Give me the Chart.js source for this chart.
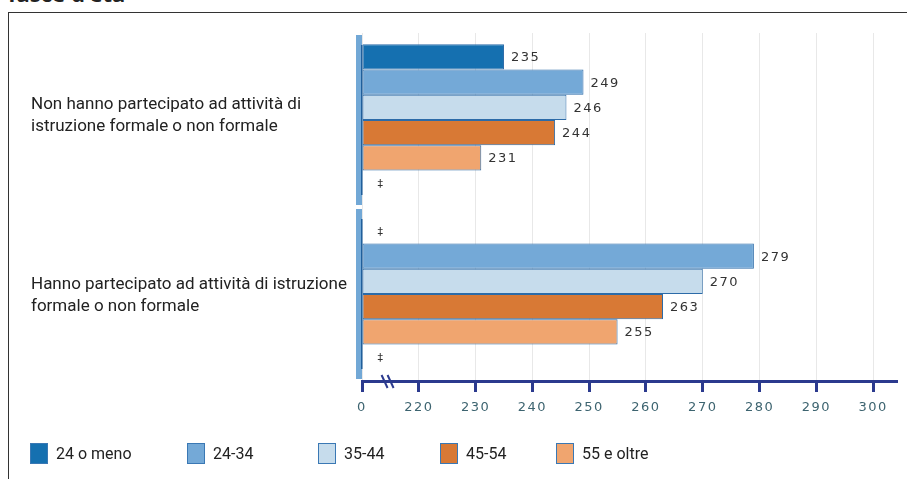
<!DOCTYPE html>
<html>
<head>
<meta charset="utf-8">
<script src="https://cdn.jsdelivr.net/npm/chart.js@4.4.0/dist/chart.umd.min.js"></script>
<style>
  html, body { margin: 0; padding: 0; background: #fff; }
  #wrap { position: relative; width: 907px; height: 479px; overflow: hidden; }
  #title { position: absolute; left: 8px; top: -22px; font: bold 22px "Noto Sans", sans-serif; color: #222; }
  #frame { position: absolute; left: 8px; top: 12px; width: 930px; height: 520px; border: 1.5px solid #333; box-sizing: border-box; }
  canvas { position: absolute; left: 0; top: 0; }
  .item { position: absolute; top: 443px; display: flex; align-items: center; font: 16px Roboto, sans-serif; color: #222; white-space: nowrap; }
  .sw { width: 18px; height: 21px; border: 1px solid #3a78b4; margin-right: 8px; box-sizing: border-box; }
</style>
</head>
<body>
<div id="wrap">
  <div id="title">fasce d'età</div>
  <div id="frame"></div>
  <canvas id="chart" width="907" height="479"></canvas>
  <div id="legend"></div>
</div>
<script>
const categories = [
  ["Non hanno partecipato ad attività di", "istruzione formale o non formale"],
  ["Hanno partecipato ad attività di istruzione", "formale o non formale"],
];
const seriesNames = ["24 o meno", "24-34", "35-44", "45-54", "55 e oltre", ""];
const age24OrLess = [235, null];
const age24to34 = [249, 279];
const age35to44 = [246, 270];
const age45to54 = [244, 263];
const age55Plus = [231, 255];
const extraSlot = [null, null];
// broken axis: 210 is drawn as "0"
const xTickValues = [210, 220, 230, 240, 250, 260, 270, 280, 290, 300];
const xTickLabels = ["0", "220", "230", "240", "250", "260", "270", "280", "290", "300"];
const AXIS_BASE = 210;
const missingMark = "‡";

const COLORS = ["#1570b0", "#74a9d7", "#c6dcec", "#d87935", "#f0a56f", "#ffffff"];
const BORDER = "#2c6ba8";
const NAVY = "#2b3a8e";
const LABEL_FONT = '17px Roboto, sans-serif';

const seriesValues = [age24OrLess, age24to34, age35to44, age45to54, age55Plus, extraSlot];

const legend = document.getElementById("legend");
const legendLeft = [30, 187, 318, 440, 556];
seriesNames.slice(0, 5).forEach((name, i) => {
  legend.insertAdjacentHTML(
    "beforeend",
    `<div class="item" style="left:${legendLeft[i]}px"><span class="sw" style="background:${COLORS[i]}"></span>${name}</div>`
  );
});

const decorations = {
  id: "decorations",
  beforeDraw(chart) {
    chart.ctx.letterSpacing = "1.5px";
  },
  afterDatasetsDraw(chart) {
    const ctx = chart.ctx;
    const x = chart.scales.x;
    ctx.save();
    ctx.fillStyle = "#333";
    ctx.textBaseline = "middle";
    chart.data.datasets.forEach((ds, di) => {
      chart.getDatasetMeta(di).data.forEach((bar, i) => {
        const v = ds.data[i];
        if (v == null) {
          ctx.font = '11px "DejaVu Sans", sans-serif';
          ctx.textAlign = "center";
          ctx.fillText(missingMark, x.getPixelForValue(AXIS_BASE) + 19, bar.y + 1);
        } else {
          ctx.font = '13px "DejaVu Sans", sans-serif';
          ctx.textAlign = "left";
          ctx.fillText(String(v), bar.x + 7, bar.y + 1);
        }
      });
    });
    ctx.restore();
  },
  afterDraw(chart) {
    const ctx = chart.ctx;
    const { x, y } = chart.scales;
    const area = chart.chartArea;
    ctx.save();
    ctx.letterSpacing = "0px";
    // left axis, split per category
    categories.forEach((_, i) => {
      const c = y.getPixelForValue(i);
      const half = (area.bottom - area.top) / categories.length / 2;
      ctx.fillStyle = "#72a8d6";
      ctx.fillRect(area.left - 6, c - half + 2, 6, 2 * half - 4);
      ctx.fillStyle = "#1f5f9c";
      ctx.fillRect(area.left - 1, c - half + 12, 1.5, 2 * half - 24);
    });
    // break mark on x axis
    const bx = x.getPixelForValue(214.5);
    ctx.strokeStyle = NAVY;
    ctx.lineWidth = 2;
    [-3, 3].forEach((dx) => {
      ctx.beginPath();
      ctx.moveTo(bx + dx - 3, area.bottom - 6);
      ctx.lineTo(bx + dx + 3, area.bottom + 7);
      ctx.stroke();
    });
    // category labels
    ctx.font = LABEL_FONT;
    ctx.fillStyle = "#222";
    ctx.textAlign = "left";
    ctx.textBaseline = "middle";
    categories.forEach((lines, i) => {
      const c = y.getPixelForValue(i) + (i === 0 ? -4 : 2);
      lines.forEach((t, li) => ctx.fillText(t, 31, c + (li - (lines.length - 1) / 2) * 22));
    });
    ctx.restore();
  },
};

new Chart(document.getElementById("chart"), {
  type: "bar",
  data: {
    labels: categories,
    datasets: seriesValues.map((vals, i) => ({
      label: seriesNames[i],
      data: vals,
      backgroundColor: COLORS[i],
      borderColor: BORDER,
      borderWidth: 1,
      borderSkipped: false,
      base: AXIS_BASE,
    })),
  },
  options: {
    indexAxis: "y",
    responsive: false,
    devicePixelRatio: 1,
    animation: false,
    categoryPercentage: 0.87,
    barPercentage: 1,
    layout: { padding: { left: 362, top: 33, right: 10, bottom: 64 } },
    plugins: { legend: { display: false }, tooltip: { enabled: false } },
    scales: {
      x: {
        type: "linear",
        min: AXIS_BASE,
        max: 304.2,
        afterBuildTicks: (s) => { s.ticks = xTickValues.map((v) => ({ value: v })); },
        afterFit: (s) => { s.height = 34; },
        ticks: {
          callback: (v, i) => xTickLabels[i],
          color: "#3d6470",
          font: { family: '"DejaVu Sans", sans-serif', size: 13 },
          padding: 8,
          maxRotation: 0,
        },
        grid: { color: "#e8e8e8", lineWidth: 1, tickColor: NAVY, tickWidth: 3, tickLength: 11 },
        border: { color: NAVY, width: 3 },
      },
      y: {
        ticks: { display: false },
        grid: { display: false },
        border: { display: false },
        afterFit: (s) => { s.width = 0; },
      },
    },
  },
  plugins: [decorations],
});
</script>
</body>
</html>
